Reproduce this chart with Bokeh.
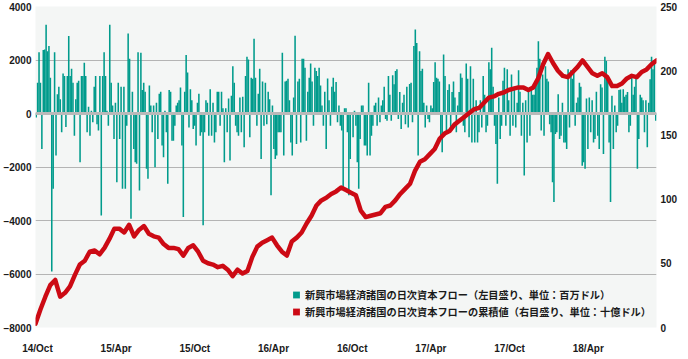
import numpy as np
from bokeh.plotting import figure
from bokeh.models import Range1d, LinearAxis, FixedTicker, Legend, LegendItem, ColumnDataSource
from bokeh.embed import file_html
from bokeh.resources import INLINE

# ---------------- data ----------------
tick_months = [0, 6, 12, 18, 24, 30, 36, 42]          # months since Oct-2014
tick_labels = ["14/Oct", "15/Apr", "15/Oct", "16/Apr", "16/Oct", "17/Apr", "17/Oct", "18/Apr"]
period_start = -0.15
period_end = 47.2

left_ticks = [-8000, -6000, -4000, -2000, 0, 2000, 4000]
right_ticks = [0, 50, 100, 150, 200, 250]

# daily capital flows to EM (USD mn), left axis
flows = [
    -150, 1150, 2290, 1150, -1330, 2370, 2390, 3320, 2330, 2520, 1340, -5910, -2810, 2290, -1570, 720,
    1000, 530, -700, 1500, 1400, -500, 1400, 2900, 1400, 1670, 1150, -830, 530, 1150, 1220, -1820,
    1400, 1400, 1900, 1400, -700, 250, -830, 100, -330, 1000, 1400, -400, -640, 1400, -3810, 1400,
    2290, 1400, 100, -460, 3320, 1150, 300, -950, 400, -2570, 1150, -950, 1000, -2810,
    1000, -2810, -460, 2990, 2050, -3930, 810, -1330, -1820, -1880, 2290, -2880, 2270, 880, 1150, 810,
    -2070, -2440, 1050, 300, -700, 300, -2010, 400, -950, 740, 810, -1200, -1640, 100, -700, -2630,
    880, 810, -1020, -1020, -460, 300, 400, 500, 970, -1200, -3870, 810, 2190, 1530, -520, 910,
    500, -580, -460, -1200, 400, 740, -830, -700, -4180, -700, 500, 400, -830, 910, -830, 400,
    -1080, -700, 810, 810, -460, 810, 200, -1820, 200, -700, 560, -1760, 660, 1770, 1150, -460,
    -700, -830, 600, -700, 630, -1260, 1400, 2120, 2020, -890, 1340, 1300, 2790, 1340, -460, 740,
    1670, -1700, 1200, -460, 1150, -400, 810, 530, -3060, 300, -1330, -1700, -1570, -700, -700, -700,
    2270, -1570, 1200, 1220, 1300, 500, -1080, -1570, 600, 2910, -1140, 1200,
    1300, -1080, 2050, 2050, 1710, -1020, 810, 1340, 1870, 1200, -460, 1710, 1590, 1400, 1710, 1050,
    300, -460, 810, -1330, 1310, 500, -460, 1000, 1340, 810, 1180, -330, 300, -460, -640, -2750,
    200, 200, -700, -3060, -1700, 50, -890, 100, -460, -1820, -2810, -950, 300, 300, -1200, -1200,
    -1570, 1150, -1570, -830, -460, 300, 400, -460, 600, -330, 300, 500, 1000, -210,
    -270, 1400, 700, -270, 1430, 1090, 1590, 1650, -210, 800, -580, 400, 700, -400, 1000, -520,
    1100, 1150, -330, 2520, 3140, 2640, -1570, 2330, 1590, 1670, 400, -520, 300, -210, -330, 300,
    200, 1180, 1920, 1340, 1300, 1200, -950, -1450, 2210, 1400, -700, 880, 1090, -580, 800, 1200,
    600, -700, 300, 800, 1500, 1340, -460, -700, 1870, 1300, -890, 1770, -1080, 1300, -1080, 500, -1080,
    -700, 500, -520, 1400, 700, -700, -460, 1920, 1650, 2460, 1000, -460, -1140, -2630, 600, -950,
    -460, 1220, 1710, -460, 1650, 500, -830, 1460, -460, 1000, -520, 400, 1620, 810, -830, 400,
    -2320, 500, -1080, 800, -830, 900, 700, 700, 1220, 1710, 2700, 2050, -640, 1460, -830, 1770,
    1300, 1200, -400, -700, -2570, -3310, -770, -700, 720, -950, -830, 400, -1080, -1080, -1330,
    1650, -520, 1620, 1300, 1670, -460, 400, 600, 1150, 1000, -1950, -1820, -2070, 560, -1330, 600,
    -700, 500, -1080, -950, 810, -830, -1330, 1090, 970, -1510, 2120, 1960, 1200, -1080, -3310, 660,
    -1330, 300, -700, -460, 880, 900, 400, 910, 630, 700, 800, -700, -460, 1340, 700, 1000,
    1400, -2070, -950, 700, 600, 500, -700, 500, -1260, 400, 1280, 2120, 1650, 1960, -270,
]

# cumulative flows (USD bn), right axis
cumulative = [
    3, 14, 24, 33, 37, 24, 27, 32, 41, 49, 52, 59, 60, 57, 62, 69, 77, 77, 74, 80,
    71, 76, 79, 73, 71, 70, 65, 62, 62, 61, 56, 62, 64, 59, 52, 50, 49, 47, 48, 45,
    40, 45, 42, 44, 55, 63, 66, 68, 70, 64, 59, 56, 67, 70, 74, 81, 87, 95, 99, 101,
    104, 106, 109, 107, 105, 103, 91, 86, 87, 88, 89, 94, 95, 99, 104, 108, 112, 122, 129, 131,
    135, 139, 147, 151, 153, 158, 161, 164, 167, 170, 171, 175, 179, 180, 182, 183, 185, 186, 187, 187,
    185, 187, 194, 205, 213, 206, 200, 196, 195, 199, 203, 208, 203, 198, 196, 198, 195, 188, 188, 190,
    194, 196, 195, 199, 201, 205, 208,
]

label_flow = "新興市場経済諸国の日次資本フロー（左目盛り、単位：百万ドル）"
label_cum = "新興市場経済諸国の日次資本フローの累積値（右目盛り、単位：十億ドル）"

TEAL = "#009b8c"
RED = "#cc0a14"
GRID = "#b4b4b4"
BG = "#f4f6f5"
TXT = "#1a1a1a"

# ---------------- figure ----------------
n = len(flows)
step = (period_end - period_start) / n
bar_x = np.linspace(period_start + step / 2, period_end - step / 2, n)
line_x = np.linspace(period_start, period_end, len(cumulative))

p = figure(width=680, height=356, output_backend="svg", toolbar_location=None,
           x_range=Range1d(period_start, period_end), y_range=Range1d(-8000, 4000),
           min_border_top=6, min_border_left=0, min_border_right=0, min_border_bottom=0)
p.extra_y_ranges = {"cum": Range1d(0, 250)}
p.background_fill_color = BG
p.border_fill_color = "white"
p.outline_line_color = None

p.xgrid.visible = False
p.ygrid.ticker = FixedTicker(ticks=left_ticks)
p.ygrid.grid_line_color = GRID
p.ygrid.grid_line_width = 1

src = ColumnDataSource(dict(x=bar_x, top=flows))
bars = p.vbar(x="x", top="top", bottom=0, width=step * 1.1, source=src,
              fill_color=TEAL, line_color=None)

p.hspan(y=[0], line_color="#b9b9b9", line_width=3)

line_src = ColumnDataSource(dict(x=line_x, y=cumulative))
p.line(x="x", y="y", source=line_src, y_range_name="cum", line_color=RED, line_width=4.5,
       line_join="round", line_cap="round")

# zero-size square markers on the same data: they only serve as legend swatches
sw1 = p.scatter(x="x", y="top", source=src, marker="square", size=0,
                fill_color=TEAL, line_color=None)
sw2 = p.scatter(x="x", y="y", source=line_src, y_range_name="cum", marker="square", size=0,
                fill_color=RED, line_color=None)

# axes
def style_axis(ax):
    ax.axis_line_color = None
    ax.major_tick_line_color = None
    ax.minor_tick_line_color = None
    ax.major_tick_out = 0
    ax.major_tick_in = 0
    ax.major_label_text_font = "Liberation Sans"
    ax.major_label_text_font_size = "10px"
    ax.major_label_text_font_style = "bold"
    ax.major_label_text_color = TXT

p.yaxis.ticker = FixedTicker(ticks=left_ticks)
p.yaxis.major_label_standoff = 4
style_axis(p.yaxis[0])

p.xaxis.ticker = FixedTicker(ticks=tick_months)
p.xaxis.major_label_overrides = {m: lab for m, lab in zip(tick_months, tick_labels)}
p.xaxis.major_label_standoff = 15
style_axis(p.xaxis[0])

rax = LinearAxis(y_range_name="cum", ticker=FixedTicker(ticks=right_ticks))
rax.major_label_standoff = 4
style_axis(rax)
p.add_layout(rax, "right")

legend = Legend(items=[LegendItem(label=label_flow, renderers=[sw1]),
                       LegendItem(label=label_cum, renderers=[sw2])],
                location=(252, 7), orientation="vertical",
                glyph_width=18, glyph_height=17, label_standoff=-5, spacing=0,
                padding=0, margin=0, label_height=17,
                background_fill_alpha=0, border_line_color=None,
                label_text_font="Noto Sans CJK JP", label_text_font_size="10.2px",
                label_text_font_style="bold", label_text_color=TXT)
p.add_layout(legend)

open("out.html", "w").write(file_html(p, INLINE))
